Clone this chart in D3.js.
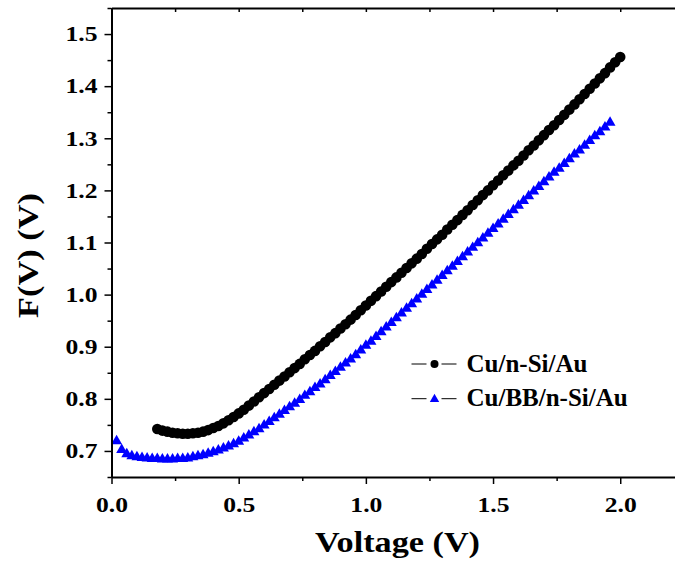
<!DOCTYPE html>
<html>
<head>
<meta charset="utf-8">
<script src="https://cdn.jsdelivr.net/npm/d3@7"></script>
<style>
  body { margin: 0; background: #fff; }
</style>
</head>
<body>
<svg id="chart" width="675" height="565"></svg>
<script>
// voltage steps (V) for each sample
var vCu = [0.18,0.20,0.22,0.24,0.26,0.28,0.30,0.32,0.34,0.36,0.38,0.40,0.42,0.44,0.46,0.48,0.50,0.52,0.54,0.56,0.58,0.60,0.62,0.64,0.66,0.68,0.70,0.72,0.74,0.76,0.78,0.80,0.82,0.84,0.86,0.88,0.90,0.92,0.94,0.96,0.98,1.00,1.02,1.04,1.06,1.08,1.10,1.12,1.14,1.16,1.18,1.20,1.22,1.24,1.26,1.28,1.30,1.32,1.34,1.36,1.38,1.40,1.42,1.44,1.46,1.48,1.50,1.52,1.54,1.56,1.58,1.60,1.62,1.64,1.66,1.68,1.70,1.72,1.74,1.76,1.78,1.80,1.82,1.84,1.86,1.88,1.90,1.92,1.94,1.96,1.98,2.00];
var fCu = [0.742,0.739,0.737,0.735,0.734,0.733,0.733,0.734,0.735,0.737,0.740,0.744,0.748,0.753,0.759,0.765,0.772,0.779,0.787,0.795,0.803,0.811,0.819,0.827,0.835,0.843,0.851,0.859,0.867,0.876,0.884,0.892,0.901,0.909,0.918,0.926,0.935,0.943,0.952,0.961,0.970,0.979,0.988,0.997,1.006,1.015,1.024,1.033,1.042,1.051,1.060,1.069,1.078,1.088,1.097,1.106,1.115,1.125,1.134,1.143,1.153,1.162,1.172,1.181,1.191,1.200,1.210,1.219,1.229,1.238,1.248,1.257,1.267,1.277,1.286,1.296,1.306,1.316,1.325,1.335,1.345,1.355,1.365,1.375,1.385,1.395,1.405,1.415,1.425,1.436,1.446,1.456];

var vBB = [0.02,0.04,0.06,0.08,0.10,0.12,0.14,0.16,0.18,0.20,0.22,0.24,0.26,0.28,0.30,0.32,0.34,0.36,0.38,0.40,0.42,0.44,0.46,0.48,0.50,0.52,0.54,0.56,0.58,0.60,0.62,0.64,0.66,0.68,0.70,0.72,0.74,0.76,0.78,0.80,0.82,0.84,0.86,0.88,0.90,0.92,0.94,0.96,0.98,1.00,1.02,1.04,1.06,1.08,1.10,1.12,1.14,1.16,1.18,1.20,1.22,1.24,1.26,1.28,1.30,1.32,1.34,1.36,1.38,1.40,1.42,1.44,1.46,1.48,1.50,1.52,1.54,1.56,1.58,1.60,1.62,1.64,1.66,1.68,1.70,1.72,1.74,1.76,1.78,1.80,1.82,1.84,1.86,1.88,1.90,1.92,1.94,1.96];
var fBB = [0.719,0.702,0.694,0.690,0.688,0.687,0.686,0.685,0.685,0.684,0.684,0.684,0.685,0.685,0.686,0.688,0.690,0.692,0.695,0.698,0.701,0.705,0.709,0.713,0.718,0.724,0.730,0.736,0.742,0.749,0.756,0.763,0.770,0.777,0.784,0.791,0.798,0.806,0.813,0.821,0.828,0.836,0.844,0.852,0.860,0.868,0.876,0.884,0.893,0.902,0.910,0.919,0.928,0.937,0.946,0.955,0.964,0.973,0.982,0.991,1.000,1.009,1.018,1.027,1.036,1.045,1.054,1.063,1.072,1.081,1.090,1.099,1.108,1.117,1.126,1.135,1.144,1.153,1.162,1.171,1.180,1.189,1.198,1.207,1.216,1.225,1.234,1.242,1.251,1.260,1.269,1.277,1.286,1.295,1.304,1.312,1.321,1.330];

var seriesNames = ["Cu/n-Si/Au", "Cu/BB/n-Si/Au"];
var xTicks = [0.0, 0.5, 1.0, 1.5, 2.0];
var yTicks = [0.7, 0.8, 0.9, 1.0, 1.1, 1.2, 1.3, 1.4, 1.5];

var FONT = "'Liberation Serif', 'Times New Roman', serif";

// plot box in pixels
var margin = { top: 8, left: 111.5, bottom: 477 };
var svg = d3.select("#chart");

var x = d3.scaleLinear().domain([0, 2.235]).range([margin.left, 680]);
var y = d3.scaleLinear().domain([0.65, 1.55]).range([margin.bottom, margin.top]);

var cuData = vCu.map(function (v, i) { return { v: v, f: fCu[i] }; });
var bbData = vBB.map(function (v, i) { return { v: v, f: fBB[i] }; });

// markers
var tri = d3.symbol().type(d3.symbolTriangle).size(52);

svg.append("g").selectAll("path")
  .data(bbData).enter().append("path")
  .attr("d", tri)
  .attr("transform", function (d) { return "translate(" + x(d.v) + "," + y(d.f) + ")"; })
  .attr("fill", "#0000ff");

svg.append("g").selectAll("circle")
  .data(cuData).enter().append("circle")
  .attr("cx", function (d) { return x(d.v); })
  .attr("cy", function (d) { return y(d.f); })
  .attr("r", 5.3)
  .attr("fill", "#000");

// axes
var xMinor = d3.range(0.25, 2.3, 0.5);
var yMinor = d3.range(0.65, 1.56, 0.1);

function styleAxis(g) {
  g.selectAll(".domain").attr("stroke", "#000").attr("stroke-width", 2);
  g.selectAll(".tick line").attr("stroke", "#000").attr("stroke-width", 1.5);
}

// tick labels are a bit wider than the font in the original
function styleTickText(sel) {
  sel.style("font-family", FONT).style("font-weight", "bold")
    .attr("font-size", 21).attr("fill", "#000")
    .attr("textLength", 32).attr("lengthAdjust", "spacingAndGlyphs");
}

var gx = svg.append("g").attr("transform", "translate(0," + margin.bottom + ")")
  .call(d3.axisBottom(x).tickValues(xTicks).tickSize(7).tickSizeOuter(0).tickPadding(13)
    .tickFormat(d3.format(".1f")));
gx.call(styleAxis);
gx.selectAll("text").call(styleTickText);
svg.append("g").attr("transform", "translate(0," + margin.bottom + ")")
  .call(d3.axisBottom(x).tickValues(xMinor).tickSize(4).tickFormat(""))
  .call(styleAxis).select(".domain").remove();

var gy = svg.append("g").attr("transform", "translate(" + margin.left + ",0)")
  .call(d3.axisLeft(y).tickValues(yTicks).tickSize(7).tickSizeOuter(0).tickPadding(7)
    .tickFormat(d3.format(".1f")));
gy.call(styleAxis);
gy.selectAll("text").call(styleTickText);
svg.append("g").attr("transform", "translate(" + margin.left + ",0)")
  .call(d3.axisLeft(y).tickValues(yMinor).tickSize(4).tickFormat(""))
  .call(styleAxis).select(".domain").remove();

// top axis, ticks inside
svg.append("g").attr("transform", "translate(0," + margin.top + ")")
  .call(d3.axisBottom(x).tickValues(xTicks.concat(xMinor)).tickSize(4).tickSizeOuter(0).tickFormat(""))
  .call(styleAxis);

// axis titles
svg.append("text")
  .attr("x", 397.5)
  .attr("y", 552)
  .attr("text-anchor", "middle")
  .style("font-family", FONT).style("font-weight", "bold")
  .attr("font-size", 30)
  .attr("textLength", 165).attr("lengthAdjust", "spacingAndGlyphs")
  .text("Voltage (V)");

svg.append("text")
  .attr("transform", "translate(38,255.5) rotate(-90)")
  .attr("text-anchor", "middle")
  .style("font-family", FONT).style("font-weight", "bold")
  .attr("font-size", 30)
  .attr("textLength", 125).attr("lengthAdjust", "spacingAndGlyphs")
  .text("F(V) (V)");

// legend
var legend = svg.append("g").attr("transform", "translate(411.5,364)");
seriesNames.forEach(function (name, i) {
  var row = legend.append("g").attr("transform", "translate(0," + i * 34.7 + ")");
  row.append("line").attr("x1", 0).attr("x2", 15).attr("stroke", "#000").attr("stroke-width", 1);
  row.append("line").attr("x1", 30).attr("x2", 45).attr("stroke", "#000").attr("stroke-width", 1);
  if (i === 0) {
    row.append("circle").attr("cx", 23).attr("cy", 0).attr("r", 4).attr("fill", "#000");
  } else {
    row.append("path").attr("d", d3.symbol().type(d3.symbolTriangle).size(38))
      .attr("transform", "translate(23,0.5)").attr("fill", "#0000ff");
  }
  row.append("text").attr("x", 55).attr("y", 7.5)
    .style("font-family", FONT).style("font-weight", "bold")
    .attr("font-size", 25).attr("fill", "#000").text(name);
});
</script>
</body>
</html>
